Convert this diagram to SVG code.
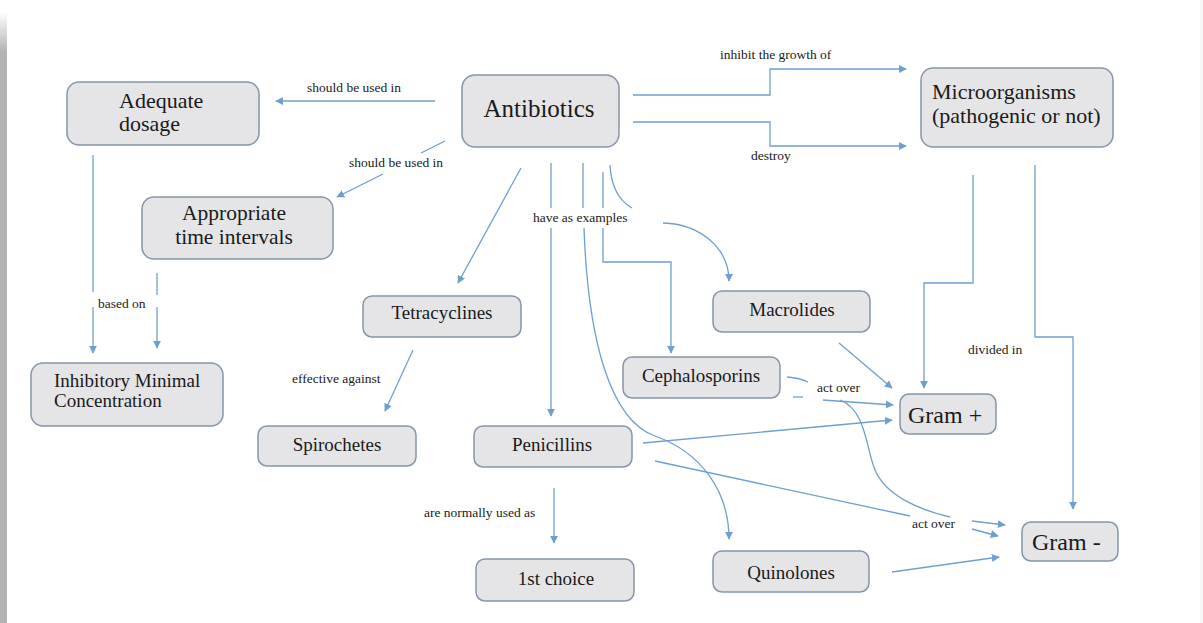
<svg xmlns="http://www.w3.org/2000/svg" width="1203" height="623" viewBox="0 0 1203 623">
<defs>
<linearGradient id="barfade" x1="0" y1="0" x2="0" y2="1">
<stop offset="0" stop-color="#ffffff"/>
<stop offset="1" stop-color="#b3b3b3"/>
</linearGradient>
<marker id="arr" viewBox="0 0 10 10" refX="9" refY="5" markerWidth="8" markerHeight="8" markerUnits="userSpaceOnUse" orient="auto">
<path d="M0,0 L10,5 L0,10 z" fill="#6f9fcf"/>
</marker>
</defs>
<style>
.node rect{fill:#e5e5e7;stroke:#8595ab;stroke-width:1.5}
.node text{font-family:"Liberation Serif","Times New Roman",serif;fill:#1a1a1a}
.c{fill:none;stroke:#6f9fcf;stroke-width:1.3}
.lbl{font-family:"Liberation Serif","Times New Roman",serif;font-size:13.5px;fill:#1a1a1a}
</style>
<rect x="0" y="0" width="1203" height="623" fill="#ffffff"/>
<rect x="0" y="12" width="7" height="40" fill="url(#barfade)"/>
<rect x="0" y="52" width="7" height="571" fill="#b3b3b3"/>
<rect x="1200" y="0" width="3" height="623" fill="#f7f7f7"/>

<g id="connectors">
<path class="c" d="M435,101 L276,101" marker-end="url(#arr)"/>
<text class="lbl" x="307" y="92">should be used in</text>
<path class="c" d="M445,141 L421,153"/>
<path class="c" d="M383,174 L337,197" marker-end="url(#arr)"/>
<text class="lbl" x="349" y="167">should be used in</text>
<path class="c" d="M633,95 L770,95 L770,69 L906,69" marker-end="url(#arr)"/>
<text class="lbl" x="720" y="59">inhibit the growth of</text>
<path class="c" d="M633,122 L770,122 L770,146 L906,146" marker-end="url(#arr)"/>
<text class="lbl" x="751" y="160">destroy</text>
<path class="c" d="M93,155 L93,292"/>
<path class="c" d="M93,307 L93,353" marker-end="url(#arr)"/>
<path class="c" d="M157,273 L157,295"/>
<path class="c" d="M157,307 L157,348" marker-end="url(#arr)"/>
<text class="lbl" x="98" y="308">based on</text>
<path class="c" d="M521,168 L458,283" marker-end="url(#arr)"/>
<path class="c" d="M551,163 L551,208"/>
<path class="c" d="M551,228 L551,416" marker-end="url(#arr)"/>
<path class="c" d="M583,163 L583,208"/>
<path class="c" d="M584,228 C588,340 610,420 655,436 C700,452 729,490 729,539" marker-end="url(#arr)"/>
<path class="c" d="M603,172 L603,208"/>
<path class="c" d="M603,228 L603,262 L671,262 L671,353" marker-end="url(#arr)"/>
<path class="c" d="M610,165 C611,185 618,200 632,208"/>
<path class="c" d="M663,223 C700,224 729,248 729,281" marker-end="url(#arr)"/>
<text class="lbl" x="533" y="222">have as examples</text>
<path class="c" d="M413,350 L385,411" marker-end="url(#arr)"/>
<text class="lbl" x="292" y="383">effective against</text>
<path class="c" d="M554,488 L554,543" marker-end="url(#arr)"/>
<text class="lbl" x="424" y="517">are normally used as</text>
<path class="c" d="M973,175 L973,283 L924,283 L924,388" marker-end="url(#arr)"/>
<path class="c" d="M1035,165 L1035,337 L1073,337 L1073,509" marker-end="url(#arr)"/>
<text class="lbl" x="968" y="354">divided in</text>
<path class="c" d="M839,343 L892,388" marker-end="url(#arr)"/>
<path class="c" d="M787,377 Q800,378 808,382"/>
<path class="c" d="M793,397 L803,397"/>
<path class="c" d="M823,400 L893,405" marker-end="url(#arr)"/>
<path class="c" d="M840,400 C866,410 866,448 875,470 C886,496 920,510 950,517"/>
<text class="lbl" x="817" y="392">act over</text>
<path class="c" d="M643,443 L892,420" marker-end="url(#arr)"/>
<path class="c" d="M655,461 L910,516"/>
<path class="c" d="M972,521 L1005,525" marker-end="url(#arr)"/>
<path class="c" d="M972,529 L998,536" marker-end="url(#arr)"/>
<text class="lbl" x="912" y="528">act over</text>
<path class="c" d="M892,572 L999,557" marker-end="url(#arr)"/>
</g>

<g id="node-antibiotics" class="node">
<rect x="462" y="75" width="157" height="72" rx="13"/>
<text x="539" y="117" font-size="25" text-anchor="middle">Antibiotics</text>
</g>
<g id="node-adequate-dosage" class="node">
<rect x="67" y="82" width="192" height="63" rx="12"/>
<text x="119" y="108" font-size="22">Adequate</text>
<text x="119" y="131" font-size="22">dosage</text>
</g>
<g id="node-microorganisms" class="node">
<rect x="921" y="68" width="192" height="79" rx="12"/>
<text x="932" y="99" font-size="22">Microorganisms</text>
<text x="932" y="123" font-size="22">(pathogenic or not)</text>
</g>
<g id="node-appropriate-time" class="node">
<rect x="142" y="197" width="191" height="62" rx="12"/>
<text x="234" y="220" font-size="21.5" text-anchor="middle">Appropriate</text>
<text x="234" y="244" font-size="21.5" text-anchor="middle">time intervals</text>
</g>
<g id="node-imc" class="node">
<rect x="31" y="363" width="192" height="63" rx="12"/>
<text x="54" y="387" font-size="19">Inhibitory Minimal</text>
<text x="54" y="407" font-size="19">Concentration</text>
</g>
<g id="node-tetracyclines" class="node">
<rect x="363" y="296" width="158" height="41" rx="9"/>
<text x="442" y="319" font-size="19" text-anchor="middle">Tetracyclines</text>
</g>
<g id="node-spirochetes" class="node">
<rect x="258" y="426" width="158" height="40" rx="9"/>
<text x="337" y="451" font-size="19" text-anchor="middle">Spirochetes</text>
</g>
<g id="node-penicillins" class="node">
<rect x="474" y="426" width="158" height="41" rx="9"/>
<text x="552" y="451" font-size="19" text-anchor="middle">Penicillins</text>
</g>
<g id="node-1st-choice" class="node">
<rect x="476" y="559" width="158" height="42" rx="9"/>
<text x="556" y="585" font-size="19" text-anchor="middle">1st choice</text>
</g>
<g id="node-quinolones" class="node">
<rect x="713" y="551" width="156" height="41" rx="9"/>
<text x="791" y="579" font-size="19" text-anchor="middle">Quinolones</text>
</g>
<g id="node-macrolides" class="node">
<rect x="713" y="291" width="157" height="41" rx="9"/>
<text x="792" y="316" font-size="19" text-anchor="middle">Macrolides</text>
</g>
<g id="node-cephalosporins" class="node">
<rect x="623" y="357" width="157" height="41" rx="9"/>
<text x="701" y="382" font-size="19" text-anchor="middle">Cephalosporins</text>
</g>
<g id="node-gram-pos" class="node">
<rect x="900" y="394" width="96" height="40" rx="9"/>
<text x="908" y="423" font-size="24">Gram +</text>
</g>
<g id="node-gram-neg" class="node">
<rect x="1022" y="522" width="96" height="39" rx="9"/>
<text x="1032" y="550" font-size="24">Gram -</text>
</g>
</svg>
